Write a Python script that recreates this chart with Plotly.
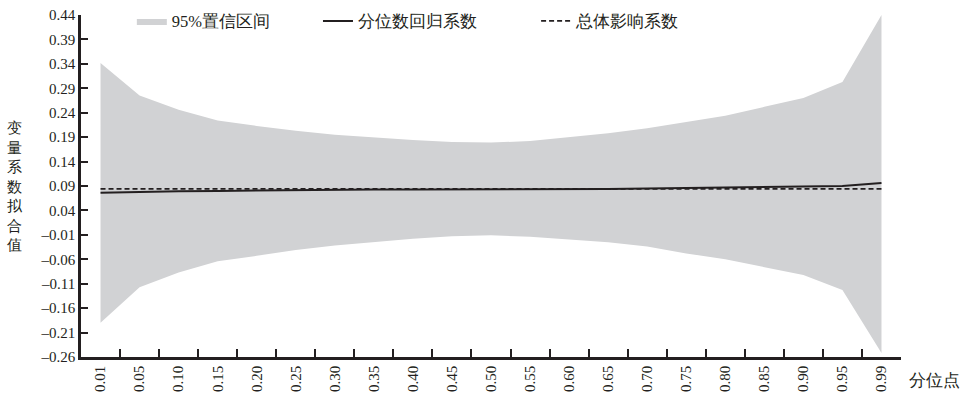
import plotly.graph_objects as go

quantiles = ["0.01", "0.05", "0.10", "0.15", "0.20", "0.25", "0.30", "0.35", "0.40", "0.45", "0.50",
             "0.55", "0.60", "0.65", "0.70", "0.75", "0.80", "0.85", "0.90", "0.95", "0.99"]
upper = [0.342, 0.275, 0.246, 0.224, 0.213, 0.203, 0.195, 0.189, 0.184, 0.180, 0.179,
         0.182, 0.190, 0.198, 0.208, 0.221, 0.234, 0.252, 0.270, 0.303, 0.440]
lower = [-0.190, -0.117, -0.087, -0.064, -0.053, -0.041, -0.032, -0.025, -0.018, -0.013, -0.011,
         -0.014, -0.020, -0.025, -0.034, -0.048, -0.060, -0.076, -0.092, -0.123, -0.252]
qr_coef = [0.076, 0.078, 0.079, 0.080, 0.081, 0.081, 0.082, 0.083, 0.083, 0.083, 0.083,
           0.083, 0.083, 0.084, 0.085, 0.086, 0.087, 0.088, 0.089, 0.090, 0.096]
total_coef = [0.084] * 21
y_ticks = [-0.26, -0.21, -0.16, -0.11, -0.06, -0.01, 0.04, 0.09, 0.14, 0.19, 0.24, 0.29, 0.34, 0.39, 0.44]
y_ticktext = [("–%.2f" % -v) if v < 0 else ("%.2f" % v) for v in y_ticks]

FONT = "Liberation Serif"
band_color = "#d1d2d4"
ink = "#231f20"

fig = go.Figure()
fig.add_trace(go.Scatter(x=quantiles, y=lower, mode="lines", line=dict(width=0, color=band_color),
                         showlegend=False, hoverinfo="skip"))
fig.add_trace(go.Scatter(x=quantiles, y=upper, mode="lines", line=dict(width=0, color=band_color),
                         fill="tonexty", fillcolor=band_color, name="95%置信区间", legend="legend"))
fig.add_trace(go.Scatter(x=quantiles, y=qr_coef, mode="lines", line=dict(color=ink, width=2),
                         name="分位数回归系数", legend="legend2"))
fig.add_trace(go.Scatter(x=quantiles, y=total_coef, mode="lines",
                         line=dict(color=ink, width=1.8, dash="5px,3px"), name="总体影响系数",
                         legend="legend3"))

leg_common = dict(orientation="h", y=1.033, xanchor="left", yanchor="top",
                  font=dict(size=16.5, family=FONT, color=ink), bgcolor="rgba(0,0,0,0)")

fig.update_layout(
    width=962, height=398,
    margin=dict(l=81, r=61, t=15, b=41, autoexpand=False),
    paper_bgcolor="white", plot_bgcolor="white",
    font=dict(family=FONT, size=15, color=ink),
    legend=dict(x=0.062, **leg_common),
    legend2=dict(x=0.289, **leg_common),
    legend3=dict(x=0.555, **leg_common),
    xaxis=dict(type="category", range=[-0.5, 20.5], tickson="boundaries", ticks="inside", ticklen=8,
               tickwidth=2, tickcolor=ink, showline=True, linewidth=2.5, linecolor=ink,
               showgrid=False, tickangle=-90, tickfont=dict(size=15, family=FONT), zeroline=False,
               automargin=False),
    yaxis=dict(range=[-0.26, 0.44], tickvals=y_ticks, ticktext=y_ticktext, ticks="inside", ticklen=7,
               tickwidth=2, tickcolor=ink, showline=True, linewidth=2.5, linecolor=ink,
               showgrid=False, zeroline=False, tickfont=dict(size=15, family=FONT), automargin=False),
    annotations=[
        dict(text="<br>".join("变量系数拟合值"), xref="paper", yref="paper", x=-0.080, y=0.5,
             xanchor="center", yanchor="middle", showarrow=False, font=dict(size=15, family=FONT)),
        dict(text="分位点", xref="paper", yref="paper", x=1.007, y=-0.068, xanchor="left",
             yanchor="middle", showarrow=False, font=dict(size=16.5, family=FONT)),
    ],
)

fig.write_html("out.html")
